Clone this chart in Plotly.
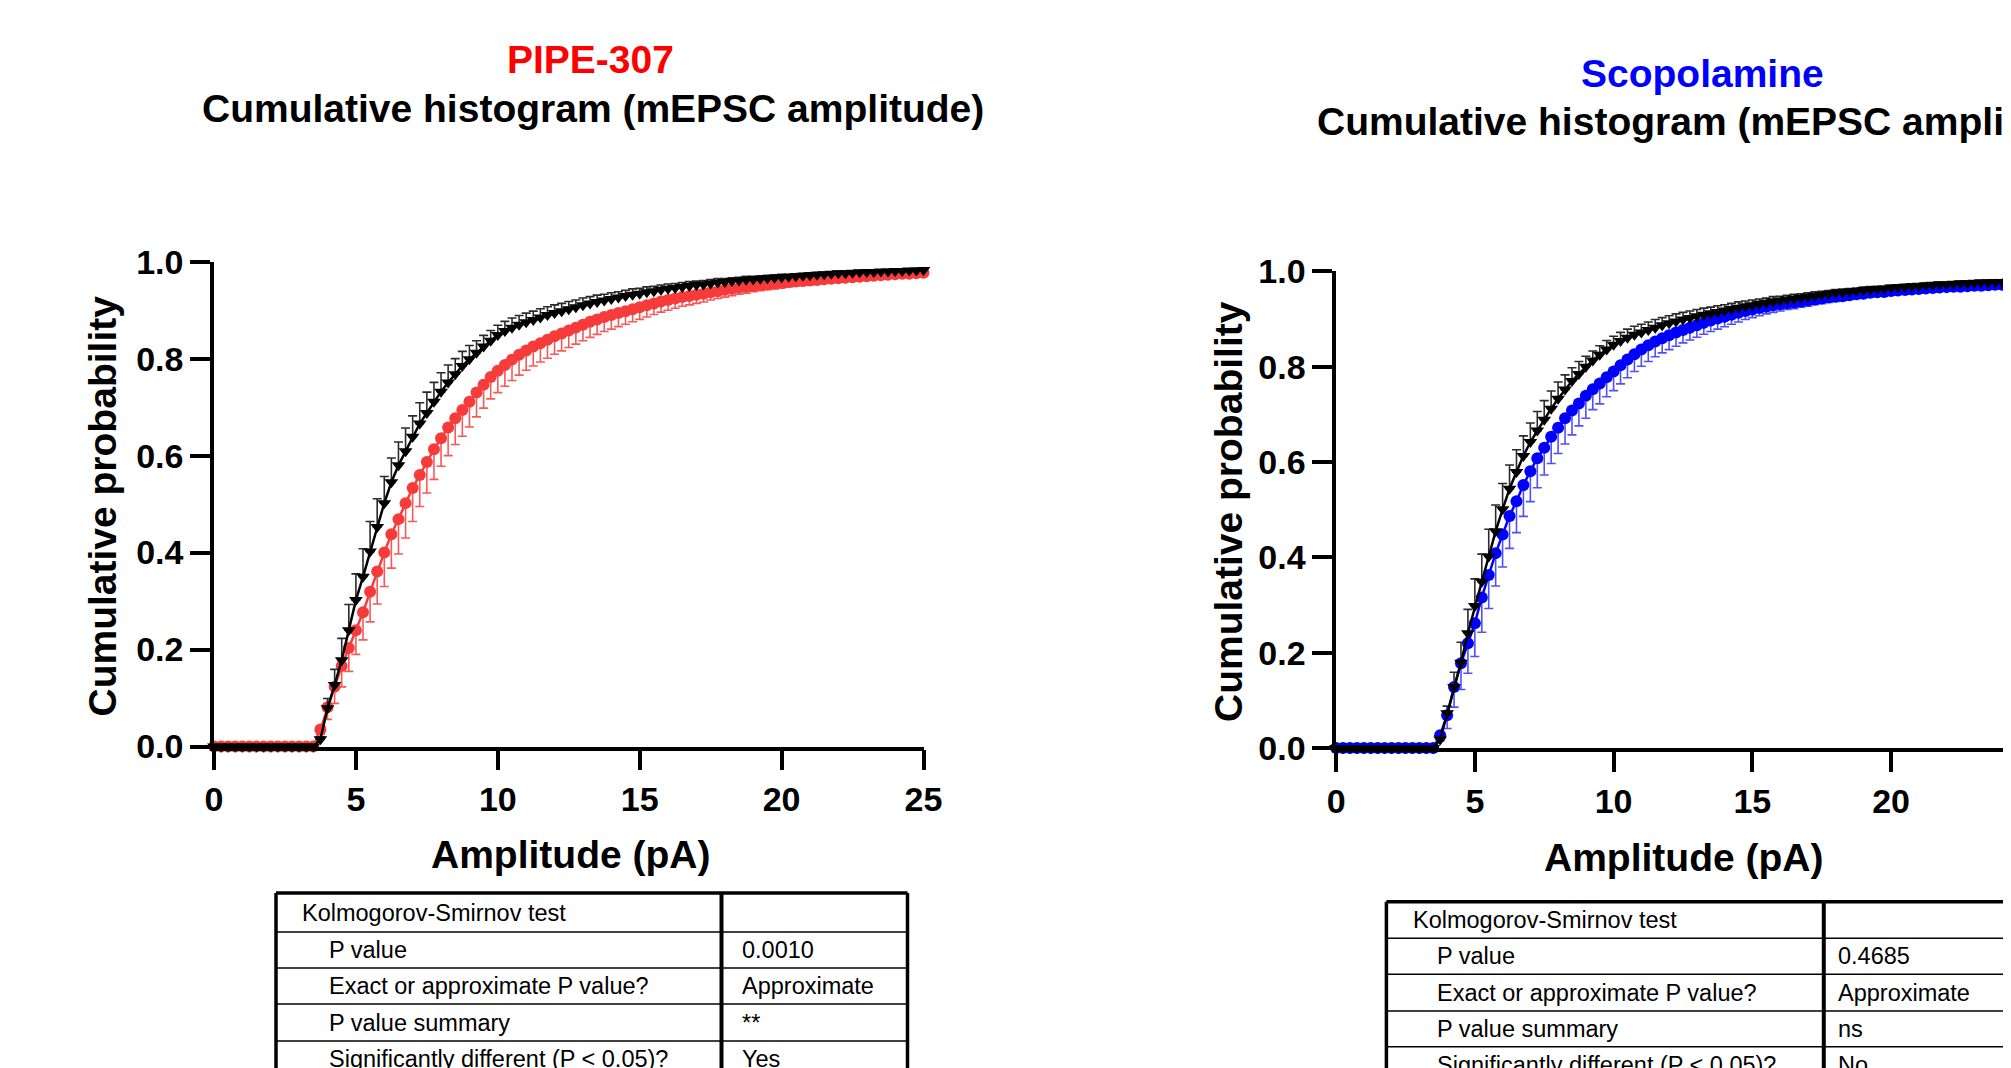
import plotly.graph_objects as go

W, H = 2011, 1068
OFF = 8  # the page body margin that the browser adds around the figure
FW, FH = W - OFF, H - OFF

# ---------------- data ----------------
amplitude = [0, 0.25, 0.5, 0.75, 1, 1.25, 1.5, 1.75, 2, 2.25, 2.5, 2.75, 3, 3.25, 3.5,
             3.75, 4, 4.25, 4.5, 4.75, 5, 5.25, 5.5, 5.75, 6, 6.25, 6.5, 6.75, 7, 7.25,
             7.5, 7.75, 8, 8.25, 8.5, 8.75, 9, 9.25, 9.5, 9.75, 10, 10.25, 10.5, 10.75,
             11, 11.25, 11.5, 11.75, 12, 12.25, 12.5, 12.75, 13, 13.25, 13.5, 13.75, 14,
             14.25, 14.5, 14.75, 15, 15.25, 15.5, 15.75, 16, 16.25, 16.5, 16.75, 17,
             17.25, 17.5, 17.75, 18, 18.25, 18.5, 18.75, 19, 19.25, 19.5, 19.75, 20,
             20.25, 20.5, 20.75, 21, 21.25, 21.5, 21.75, 22, 22.25, 22.5, 22.75, 23,
             23.25, 23.5, 23.75, 24, 24.25, 24.5, 24.75, 25]

control_left = [0, 0, 0, 0, 0, 0, 0, 0, 0, 0, 0, 0, 0, 0, 0,
                0.015, 0.079, 0.127, 0.178, 0.240, 0.302, 0.350, 0.402, 0.453, 0.502,
                0.545, 0.580, 0.609, 0.639, 0.666, 0.688, 0.711, 0.732, 0.751, 0.768,
                0.785, 0.799, 0.812, 0.825, 0.837, 0.849,
                0.857, 0.864, 0.870, 0.875, 0.880, 0.885, 0.890, 0.894,
                0.898, 0.902, 0.906, 0.910, 0.914, 0.917, 0.920, 0.923,
                0.926, 0.929, 0.932, 0.934, 0.937, 0.939, 0.942, 0.944,
                0.946, 0.948, 0.950, 0.952, 0.953, 0.955, 0.957, 0.958,
                0.960, 0.961, 0.963, 0.964, 0.965, 0.966, 0.967, 0.968,
                0.969, 0.970, 0.971, 0.972, 0.973, 0.974, 0.975, 0.976,
                0.976, 0.977, 0.978, 0.979, 0.979, 0.980, 0.980, 0.981,
                0.981, 0.982, 0.982, 0.983]
control_left_sem = [0, 0, 0, 0, 0, 0, 0, 0, 0, 0, 0, 0, 0, 0, 0,
                    0.005, 0.020, 0.032, 0.045, 0.053, 0.054, 0.058, 0.062, 0.058, 0.055,
                    0.050, 0.048, 0.048, 0.043, 0.043, 0.043, 0.040, 0.039, 0.036, 0.032,
                    0.030, 0.028, 0.025, 0.023, 0.021, 0.020,
                    0.020, 0.020, 0.019, 0.019, 0.018, 0.018, 0.017, 0.017,
                    0.016, 0.016, 0.015, 0.015, 0.014, 0.014, 0.013, 0.013,
                    0.012, 0.012, 0.012, 0.011, 0.011, 0.010, 0.010, 0.010,
                    0.009, 0.009, 0.009, 0.008, 0.008, 0.008, 0.008, 0.007,
                    0.007, 0.007, 0.007, 0.006, 0.006, 0.006, 0.006, 0.006,
                    0.005, 0.005, 0.005, 0.005, 0.005, 0.004, 0.004, 0.004,
                    0.004, 0.004, 0.004, 0.004, 0.003, 0.003, 0.003, 0.003,
                    0.003, 0.003, 0.003, 0.003]

pipe307 = [0, 0, 0, 0, 0, 0, 0, 0, 0, 0, 0, 0, 0, 0, 0,
           0.035, 0.081, 0.123, 0.166, 0.203, 0.240, 0.277, 0.319, 0.361, 0.400,
           0.438, 0.469, 0.502, 0.533, 0.560, 0.587, 0.613, 0.636, 0.658, 0.677,
           0.694, 0.711, 0.730, 0.746, 0.762, 0.775,
           0.787, 0.798, 0.808, 0.817, 0.825, 0.832, 0.839, 0.846,
           0.852, 0.858, 0.864, 0.870, 0.876, 0.881, 0.886, 0.890,
           0.894, 0.898, 0.902, 0.906, 0.910, 0.914, 0.918, 0.921,
           0.924, 0.927, 0.929, 0.932, 0.934, 0.937, 0.939, 0.942,
           0.944, 0.946, 0.948, 0.950, 0.952, 0.953, 0.955, 0.956,
           0.958, 0.959, 0.960, 0.961, 0.962, 0.964, 0.965, 0.966,
           0.967, 0.968, 0.969, 0.970, 0.971, 0.972, 0.973, 0.974,
           0.975, 0.975, 0.976, 0.977]
pipe307_sem = [0, 0, 0, 0, 0, 0, 0, 0, 0, 0, 0, 0, 0, 0, 0,
               0.010, 0.025, 0.034, 0.043, 0.048, 0.050, 0.057, 0.062, 0.067, 0.070,
               0.070, 0.072, 0.072, 0.069, 0.065, 0.064, 0.062, 0.058, 0.058, 0.054,
               0.054, 0.052, 0.050, 0.048, 0.045, 0.045,
               0.044, 0.043, 0.042, 0.041, 0.040, 0.039, 0.038, 0.037,
               0.036, 0.035, 0.034, 0.033, 0.032, 0.031, 0.030, 0.029,
               0.028, 0.027, 0.026, 0.025, 0.024, 0.023, 0.022, 0.021,
               0.020, 0.019, 0.018, 0.018, 0.017, 0.016, 0.015, 0.015,
               0.014, 0.013, 0.013, 0.012, 0.012, 0.011, 0.011, 0.010,
               0.010, 0.009, 0.009, 0.009, 0.008, 0.008, 0.008, 0.007,
               0.007, 0.007, 0.007, 0.006, 0.006, 0.006, 0.006, 0.005,
               0.005, 0.005, 0.005, 0.005]

control_right = [0, 0, 0, 0, 0, 0, 0, 0, 0, 0, 0, 0, 0, 0, 0,
                 0.018, 0.073, 0.128, 0.179, 0.241, 0.298, 0.349, 0.402, 0.455, 0.501,
                 0.544, 0.579, 0.613, 0.642, 0.666, 0.689, 0.712, 0.733, 0.752, 0.770,
                 0.785, 0.800, 0.813, 0.825, 0.836, 0.846,
                 0.854, 0.861, 0.867, 0.872, 0.877, 0.882, 0.887, 0.891,
                 0.895, 0.899, 0.902, 0.906, 0.909, 0.912, 0.915, 0.918,
                 0.921, 0.924, 0.927, 0.929, 0.932, 0.934, 0.937, 0.939,
                 0.941, 0.943, 0.945, 0.947, 0.949, 0.951, 0.953, 0.955,
                 0.956, 0.958, 0.959, 0.961, 0.962, 0.963, 0.964, 0.966,
                 0.967, 0.968, 0.969, 0.970, 0.971, 0.972, 0.973, 0.973,
                 0.974, 0.975, 0.975, 0.976, 0.977, 0.977, 0.978, 0.978,
                 0.979, 0.979, 0.980, 0.980]
control_right_sem = [0, 0, 0, 0, 0, 0, 0, 0, 0, 0, 0, 0, 0, 0, 0,
                     0.005, 0.015, 0.031, 0.043, 0.050, 0.057, 0.058, 0.057, 0.055, 0.054,
                     0.050, 0.047, 0.042, 0.040, 0.040, 0.040, 0.037, 0.035, 0.031, 0.028,
                     0.026, 0.022, 0.020, 0.019, 0.019, 0.018,
                     0.018, 0.018, 0.018, 0.017, 0.017, 0.017, 0.016, 0.016,
                     0.016, 0.015, 0.015, 0.014, 0.014, 0.013, 0.013, 0.012,
                     0.012, 0.012, 0.011, 0.011, 0.010, 0.010, 0.010, 0.009,
                     0.009, 0.009, 0.008, 0.008, 0.008, 0.007, 0.007, 0.007,
                     0.007, 0.006, 0.006, 0.006, 0.006, 0.006, 0.005, 0.005,
                     0.005, 0.005, 0.005, 0.004, 0.004, 0.004, 0.004, 0.004,
                     0.004, 0.004, 0.004, 0.003, 0.003, 0.003, 0.003, 0.003,
                     0.003, 0.003, 0.003, 0.003]

scopolamine = [0, 0, 0, 0, 0, 0, 0, 0, 0, 0, 0, 0, 0, 0, 0,
               0.027, 0.069, 0.128, 0.178, 0.220, 0.262, 0.316, 0.363, 0.409, 0.448,
               0.487, 0.518, 0.552, 0.581, 0.608, 0.630, 0.653, 0.672, 0.692, 0.708,
               0.723, 0.739, 0.753, 0.765, 0.778, 0.790,
               0.803, 0.815, 0.826, 0.836, 0.845, 0.853, 0.860, 0.866,
               0.872, 0.877, 0.882, 0.887, 0.892, 0.897, 0.901, 0.905,
               0.909, 0.913, 0.917, 0.920, 0.923, 0.926, 0.929, 0.931,
               0.933, 0.935, 0.937, 0.939, 0.941, 0.943, 0.945, 0.947,
               0.948, 0.950, 0.952, 0.953, 0.955, 0.956, 0.957, 0.959,
               0.960, 0.961, 0.962, 0.963, 0.964, 0.965, 0.966, 0.967,
               0.968, 0.968, 0.969, 0.970, 0.970, 0.971, 0.972, 0.972,
               0.973, 0.973, 0.974, 0.974]
scopolamine_sem = [0, 0, 0, 0, 0, 0, 0, 0, 0, 0, 0, 0, 0, 0, 0,
                   0.012, 0.028, 0.042, 0.055, 0.063, 0.070, 0.073, 0.070, 0.069, 0.068,
                   0.068, 0.066, 0.066, 0.064, 0.062, 0.057, 0.056, 0.054, 0.054, 0.051,
                   0.047, 0.047, 0.043, 0.043, 0.041, 0.040,
                   0.039, 0.038, 0.036, 0.035, 0.034, 0.032, 0.031, 0.030,
                   0.029, 0.027, 0.026, 0.025, 0.024, 0.023, 0.022, 0.021,
                   0.020, 0.019, 0.018, 0.017, 0.016, 0.015, 0.015, 0.014,
                   0.013, 0.013, 0.012, 0.012, 0.011, 0.011, 0.010, 0.010,
                   0.009, 0.009, 0.009, 0.008, 0.008, 0.008, 0.007, 0.007,
                   0.007, 0.007, 0.006, 0.006, 0.006, 0.006, 0.005, 0.005,
                   0.005, 0.005, 0.005, 0.005, 0.004, 0.004, 0.004, 0.004,
                   0.004, 0.004, 0.004, 0.004]

x_tick_vals = [0, 5, 10, 15, 20, 25]
y_tick_vals = [0, 0.2, 0.4, 0.6, 0.8, 1.0]
y_tick_text = ["0.0", "0.2", "0.4", "0.6", "0.8", "1.0"]

ks_rows = ["Kolmogorov-Smirnov test", "P value", "Exact or approximate P value?",
           "P value summary", "Significantly different (P < 0.05)?"]
pipe_ks = ["", "0.0010", "Approximate", "**", "Yes"]
scop_ks = ["", "0.4685", "Approximate", "ns", "No"]

# ---------------- helpers ----------------
FONT = "Liberation Sans, Arial, Helvetica, sans-serif"


def px(x):
    return (x - OFF) / FW


def py(y):
    return 1 - (y - OFF) / FH


zeros = [0 for _ in amplitude]

fig = go.Figure()


def add_pair(treat, treat_sem, treat_color, err_color, ctrl, ctrl_sem, xa, ya):
    fig.add_trace(go.Scatter(
        x=amplitude, y=treat, xaxis=xa, yaxis=ya, mode="lines+markers",
        line=dict(color=treat_color, width=2.5),
        marker=dict(symbol="circle", size=12, color=treat_color, line=dict(width=0)),
        error_y=dict(type="data", symmetric=False, array=zeros, arrayminus=treat_sem,
                     color=err_color, thickness=1.6, width=4.5),
        cliponaxis=False, showlegend=False, hoverinfo="skip"))
    fig.add_trace(go.Scatter(
        x=amplitude, y=ctrl, xaxis=xa, yaxis=ya, mode="lines+markers",
        line=dict(color="black", width=2.5),
        marker=dict(symbol="triangle-down", size=12, color="black", line=dict(width=0)),
        error_y=dict(type="data", symmetric=False, array=ctrl_sem, arrayminus=zeros,
                     color="#2a2a2a", thickness=1.6, width=4.5),
        cliponaxis=False, showlegend=False, hoverinfo="skip"))


add_pair(pipe307, pipe307_sem, "#F73B3B", "rgba(247,70,70,0.9)",
         control_left, control_left_sem, "x", "y")
add_pair(scopolamine, scopolamine_sem, "#0000FF", "rgba(60,60,255,0.9)",
         control_right, control_right_sem, "x2", "y2")

axis_common = dict(
    showline=True, linecolor="black", linewidth=3.5, ticks="outside", ticklen=20,
    tickwidth=3.5, tickcolor="black", showgrid=False, zeroline=False,
    automargin=False, fixedrange=True,
    tickfont=dict(family=FONT, size=34, color="black", weight="bold"),
)

# right panel is cut by the picture's edge at about x = 24.3
x2_max = (W - 1336.1) / 27.75

fig.update_layout(
    width=FW, height=FH, margin=dict(l=0, r=0, t=0, b=0), autosize=False,
    paper_bgcolor="white", plot_bgcolor="white",
    xaxis=dict(axis_common, domain=[px(214), px(923.5)], range=[0, 25],
               tickvals=x_tick_vals, anchor="y"),
    yaxis=dict(axis_common, domain=[py(746.5), py(261.7)], range=[0, 1],
               tickvals=y_tick_vals, ticktext=y_tick_text, anchor="x"),
    xaxis2=dict(axis_common, domain=[px(1336.1), 1.0], range=[0, x2_max],
                tickvals=x_tick_vals, anchor="y2"),
    yaxis2=dict(axis_common, domain=[py(748.1), py(271.4)], range=[0, 1],
                tickvals=y_tick_vals, ticktext=y_tick_text, anchor="x2"),
)

ann = []


def text(x, y, s, size, color="black", bold=True, xanchor="center", angle=0):
    ann.append(dict(x=px(x), y=py(y), xref="paper", yref="paper", text=s,
                    showarrow=False, xanchor=xanchor, yanchor="middle",
                    textangle=angle,
                    font=dict(family=FONT, size=size, color=color,
                              weight="bold" if bold else "normal")))


# titles
text(590, 60, "PIPE-307", 39, color="#FF0000")
text(593, 108.5, "Cumulative histogram (mEPSC amplitude)", 39)
text(1702, 74, "Scopolamine", 39, color="#0000FF")
text(1708, 122, "Cumulative histogram (mEPSC amplitude)", 39)

# axis titles
text(570, 854, "Amplitude (pA)", 39)
text(1683, 857, "Amplitude (pA)", 39)
text(101.5, 506, "Cumulative probability", 39, angle=-90)
text(1228, 512, "Cumulative probability", 39, angle=-90)

shapes = []


def line(x0, y0, x1, y1, w):
    shapes.append(dict(type="line", xref="paper", yref="paper",
                       x0=px(x0), y0=py(y0), x1=px(x1), y1=py(y1),
                       line=dict(color="black", width=w)))


def table(left, divider, right, top, rows, labels, values, label_x0, label_x, value_x):
    bottom = rows[-1] + 40
    line(left, top, right, top, 3.5)
    for r in rows[1:]:
        line(left, r, right, r, 1.5)
    line(left, top, left, bottom, 3.5)
    line(divider, top, divider, bottom, 4)
    line(right, top, right, bottom, 3.5)
    for i, lab in enumerate(labels):
        y0 = rows[i]
        y1 = rows[i + 1] if i + 1 < len(rows) else rows[i] + 36
        yc = (y0 + y1) / 2
        text(label_x0 if i == 0 else label_x, yc, lab, 23.5, bold=False, xanchor="left")
        if values[i]:
            text(value_x, yc, values[i], 23.5, bold=False, xanchor="left")


table(276, 721.5, 907.5, 893, [893, 932, 968, 1004, 1041],
      ks_rows, pipe_ks, 300, 327, 740)
table(1386.4, 1823.8, 2005.7, 901.7, [901.7, 938.3, 974.3, 1011, 1046.7],
      ks_rows, scop_ks, 1411, 1435.4, 1836)

fig.update_layout(annotations=ann, shapes=shapes)

fig.write_html("out.html")
